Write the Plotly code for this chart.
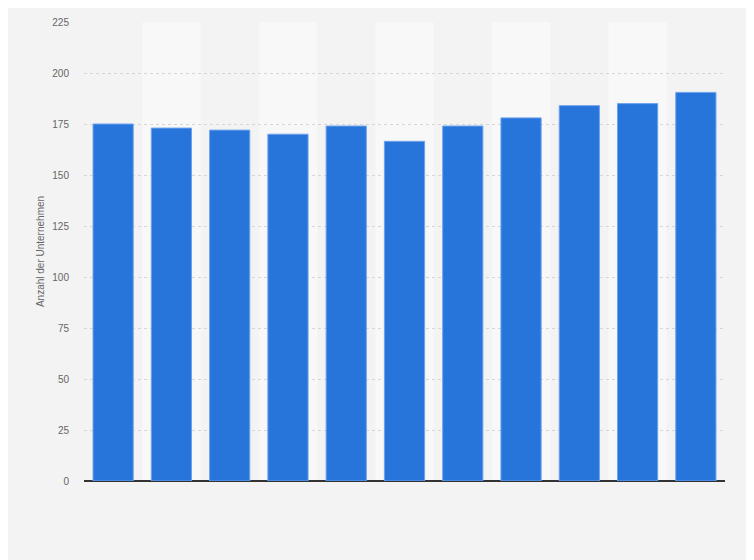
import plotly.graph_objects as go

# Daten (keine Kategorienbeschriftungen sichtbar)
kategorien = list(range(11))
anzahl_unternehmen = [175, 173, 172, 170, 174, 166.5, 174, 178, 184, 185, 190.5]
y_ticks = [0, 25, 50, 75, 100, 125, 150, 175, 200, 225]

fig = go.Figure()

# Balken
fig.add_trace(go.Bar(
    x=kategorien, y=anzahl_unternehmen,
    marker=dict(color='#2775db', line=dict(color='#6ea3ec', width=1)),
    width=0.69, hoverinfo='y'
))

# abwechselnd helle Spalten im Hintergrund
for i in kategorien:
    if i % 2 == 1:
        fig.add_shape(type='rect', xref='x', yref='y',
                      x0=i - 0.5, x1=i + 0.5, y0=0, y1=225,
                      fillcolor='#f8f8f8', line=dict(width=0), layer='below')

# Seite hat 8px Rand -> Figur etwas kleiner
fig.update_layout(
    width=746, height=552,
    margin=dict(l=76, r=29, t=8, b=79),
    paper_bgcolor='#f3f3f3',
    plot_bgcolor='#f3f3f3',
    font=dict(family='Liberation Sans, Arial, sans-serif', size=10, color='#666666'),
    showlegend=False
)

fig.update_xaxes(
    range=[-0.5, 10.5], showticklabels=False, showgrid=False,
    zeroline=False, showline=False, ticks=''
)
fig.update_yaxes(
    range=[0, 225], tickvals=y_ticks, ticks='', ticklabelstandoff=14,
    showgrid=True, gridcolor='#d6d6d6', griddash='dot', gridwidth=1,
    zeroline=True, zerolinecolor='#333333', zerolinewidth=1.5,
    title=dict(text='Anzahl der Unternehmen', font=dict(size=10, color='#666666'), standoff=5),
    tickfont=dict(size=10, color='#666666')
)

fig.write_html("out.html")
